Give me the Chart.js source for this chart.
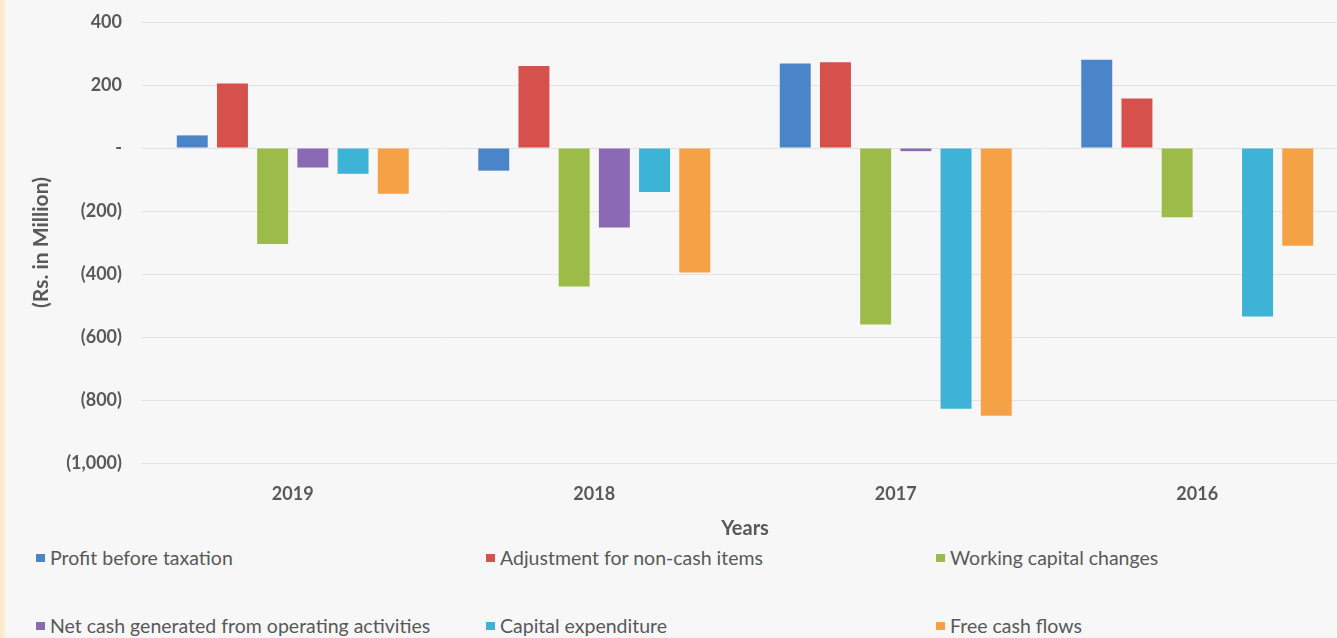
<!DOCTYPE html>
<html>
<head>
<meta charset="utf-8">
<script src="https://cdn.jsdelivr.net/npm/chart.js@4.4.1/dist/chart.umd.min.js"></script>
<style>
  html, body { margin: 0; padding: 0; background: #f7f7f7; overflow: hidden; }
  #wrap { position: relative; width: 1337px; height: 638px; overflow: hidden; }
  #edge { position: absolute; left: 0; top: 0; width: 6px; height: 638px;
          background: linear-gradient(to right, #fbe8c4, #f9f3e6); }
  #box { position: absolute; left: 0; top: 0; width: 1350px; height: 545px; }
  .leg { position: absolute; font-family: Lato, "Open Sans", sans-serif; font-size: 19.5px;
         color: #595959; white-space: nowrap; line-height: 22px; }
  .leg i { position: absolute; left: -14px; top: 7px; width: 9px; height: 8px; }
</style>
</head>
<body>
<div id="wrap">
  <div id="edge"></div>
  <div id="box"><canvas id="cashChart"></canvas></div>
  <div id="legend"></div>
</div>
<script>
const years = ["2019", "2018", "2017", "2016"];

const profitBeforeTax = [40, -72, 268, 280];
const adjustmentNonCash = [205, 260, 272, 157];
const workingCapital = [-305, -440, -560, -220];
const netCashOperating = [-62, -252, -10, 0];
const capitalExpenditure = [-82, -140, -828, -535];
const freeCashFlows = [-145, -395, -850, -310];

const seriesNames = [
  "Profit before taxation",
  "Adjustment for non-cash items",
  "Working capital changes",
  "Net cash generated from operating activities",
  "Capital expenditure",
  "Free cash flows",
];
const seriesColors = ["#4a85c9", "#d6504c", "#9dbb48", "#8a6ab5", "#3db3d5", "#f5a146"];
const seriesValues = [profitBeforeTax, adjustmentNonCash, workingCapital,
  netCashOperating, capitalExpenditure, freeCashFlows];

const yTicks = [400, 200, 0, -200, -400, -600, -800, -1000];

// legend: 3 columns, 2 rows
const legendCols = [50, 500, 950];
const legendRows = [547, 615];
const legendEl = document.getElementById("legend");
seriesNames.forEach((name, i) => {
  const d = document.createElement("div");
  d.className = "leg";
  d.style.left = legendCols[i % 3] + "px";
  d.style.top = legendRows[Math.floor(i / 3)] + "px";
  d.innerHTML = '<i style="background:' + seriesColors[i] + '"></i>' + name;
  legendEl.appendChild(d);
});

const ctx = document.getElementById("cashChart").getContext("2d");
new Chart(ctx, {
  type: "bar",
  data: {
    labels: years,
    datasets: seriesNames.map((name, i) => ({
      label: name,
      data: seriesValues[i],
      backgroundColor: seriesColors[i],
      borderWidth: 0,
      barPercentage: 0.77,
      categoryPercentage: 0.8,
    })),
  },
  options: {
    responsive: true,
    maintainAspectRatio: false,
    animation: false,
    layout: { padding: { top: 22, right: 2, left: 0, bottom: 0 } },
    plugins: {
      legend: { display: false },
      tooltip: { enabled: false },
    },
    scales: {
      x: {
        grid: { display: false },
        border: { display: false },
        ticks: {
          color: "#595959",
          padding: 12,
          font: { family: "Lato", size: 18, weight: "bold" },
        },
        title: {
          display: true,
          text: "Years",
          color: "#595959",
          font: { family: "Lato", size: 20, weight: "bold" },
          padding: { top: 0, bottom: 4 },
        },
        afterFit: (s) => { s.height = 82; },
      },
      y: {
        min: -1000,
        max: 400,
        afterBuildTicks: (s) => { s.ticks = yTicks.map((v) => ({ value: v })); },
        grid: { color: "#e2e2e2", lineWidth: 1, drawTicks: false },
        border: { display: false },
        ticks: {
          color: "#595959",
          padding: 20,
          font: { family: "Lato", size: 18, weight: "bold" },
          callback: (v) => {
            if (v === 0) return "-";
            if (v < 0) return "(" + Math.abs(v).toLocaleString("en-US") + ")";
            return v.toLocaleString("en-US");
          },
        },
        title: {
          display: true,
          text: "(Rs. in Million)",
          color: "#595959",
          font: { family: "Lato", size: 21, weight: "bold" },
          padding: { top: 29, bottom: 0 },
        },
        afterFit: (s) => {
          s.width = 142;
          s.paddingTop = 10;
          s.paddingBottom = 10;
        },
      },
    },
  },
});
</script>
</body>
</html>
